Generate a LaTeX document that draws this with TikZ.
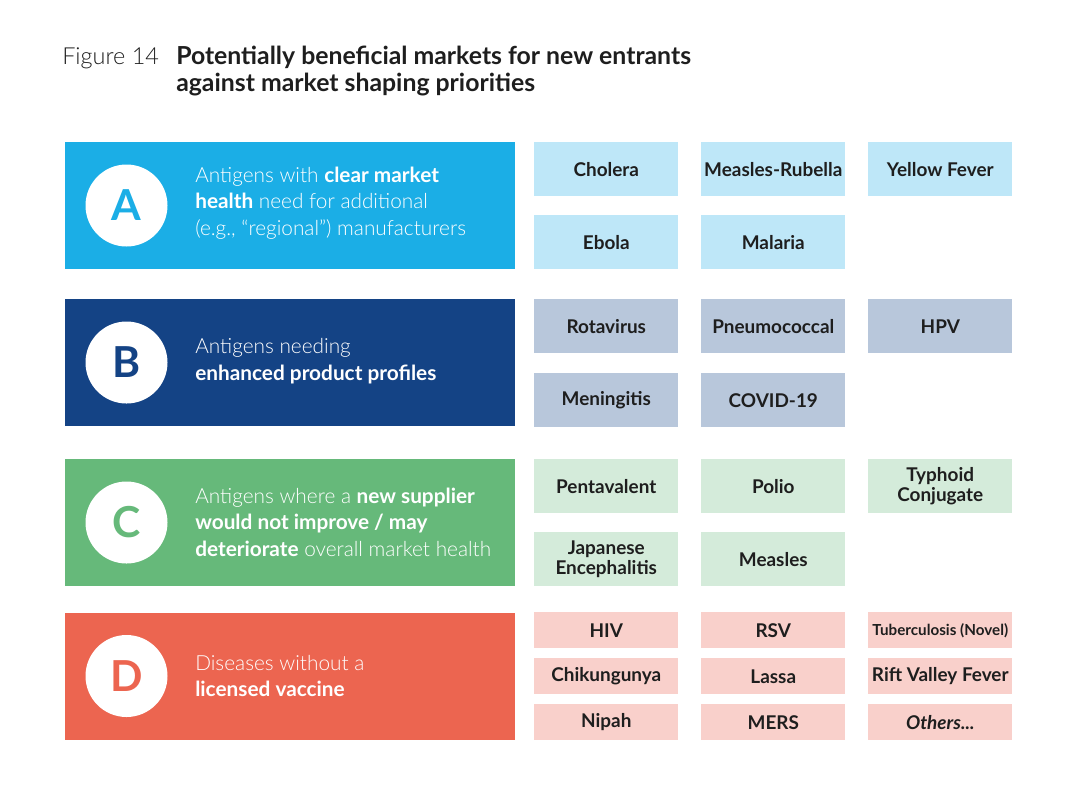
\documentclass[tikz,border=0pt]{standalone}
\usepackage{fontspec}
\setmainfont{Lato}
\newfontfamily\lightfont{Lato Light}
\usetikzlibrary{positioning}

\definecolor{bandA}{HTML}{1BAEE6}
\definecolor{cellA}{HTML}{BEE7F8}
\definecolor{bandB}{HTML}{144385}
\definecolor{cellB}{HTML}{B8C7DB}
\definecolor{bandC}{HTML}{66B97A}
\definecolor{cellC}{HTML}{D4EBDA}
\definecolor{bandD}{HTML}{EC6550}
\definecolor{cellD}{HTML}{F9D0CB}
\definecolor{ink}{HTML}{1E1E1E}

\newcommand{\keyphrase}[1]{{\normalfont\bfseries #1}}

\begin{document}
\begin{tikzpicture}[x=0.75pt,y=-0.75pt,
  band/.style={anchor=north west,inner sep=0pt,minimum width=337.5pt,minimum height=95.25pt},
  letter/.style={circle,fill=white,inner sep=0pt,minimum size=61.5pt,font=\fontsize{32}{32}\selectfont\bfseries},
  blurb/.style={anchor=west,align=left,text=white,inner sep=0pt,font=\lightfont\fontsize{15.6}{19.8}\selectfont},
  cell/.style={anchor=north west,inner sep=0pt,minimum width=108pt,minimum height=40.5pt,align=center,text=ink,font=\fontsize{14.2}{14.5}\selectfont\bfseries},
  small cell/.style={cell,minimum height=27pt},
  ]
\useasboundingbox (0,0) rectangle (1080,794);

% title
\node[anchor=west,inner sep=0pt,text=ink,font=\lightfont\fontsize{17.6}{20}\selectfont] (fig) at (62,58) {Figure 14};
\node[anchor=north west,inner sep=0pt,align=left,text=ink,font=\fontsize{18.6}{20.25}\selectfont\bfseries] (title) at (176,46)
  {Potentially beneficial markets for new entrants\\against market shaping priorities};

% A
\node[band,fill=bandA] (bandA) at (65,142) {};
\node[letter,text=bandA] (circA) at (126.5,205.5) {A};
\node[blurb] (textA) at (195,203) {Antigens with \keyphrase{clear market}\\\keyphrase{health} need for additional\\(e.g., “regional”) manufacturers};
\node[cell,fill=cellA] (cholera) at (534,142) {Cholera};
\node[cell,fill=cellA] (mr) at (701,142) {Measles-Rubella};
\node[cell,fill=cellA] (yf) at (868,142) {Yellow Fever};
\node[cell,fill=cellA] (ebola) at (534,215) {Ebola};
\node[cell,fill=cellA] (malaria) at (701,215) {Malaria};

% B
\node[band,fill=bandB] (bandB) at (65,299) {};
\node[letter,text=bandB] (circB) at (126.5,362.5) {B};
\node[blurb] (textB) at (195,361) {Antigens needing\\\keyphrase{enhanced product profiles}};
\node[cell,fill=cellB] (rota) at (534,299) {Rotavirus};
\node[cell,fill=cellB] (pneumo) at (701,299) {Pneumococcal};
\node[cell,fill=cellB] (hpv) at (868,299) {HPV};
\node[cell,fill=cellB] (mening) at (534,373) {Meningitis};
\node[cell,fill=cellB] (covid) at (701,373) {COVID-19};

% C
\node[band,fill=bandC] (bandC) at (65,459) {};
\node[letter,text=bandC] (circC) at (126.5,522.5) {C};
\node[blurb] (textC) at (195,522) {Antigens where a \keyphrase{new supplier}\\\keyphrase{would not improve / may}\\\keyphrase{deteriorate} overall market health};
\node[cell,fill=cellC] (penta) at (534,459) {Pentavalent};
\node[cell,fill=cellC] (polio) at (701,459) {Polio};
\node[cell,fill=cellC] (typhoid) at (868,459) {Typhoid\\Conjugate};
\node[cell,fill=cellC] (je) at (534,532) {Japanese\\Encephalitis};
\node[cell,fill=cellC] (measles) at (701,532) {Measles};

% D
\node[band,fill=bandD] (bandD) at (65,612.5) {};
\node[letter,text=bandD] (circD) at (126.5,676) {D};
\node[blurb] (textD) at (195,676) {Diseases without a\\\keyphrase{licensed vaccine}};
\node[small cell,fill=cellD] (hiv) at (534,612) {HIV};
\node[small cell,fill=cellD] (rsv) at (701,612) {RSV};
\node[small cell,fill=cellD,font=\fontsize{11.4}{12}\selectfont\bfseries] (tb) at (868,612) {Tuberculosis (Novel)};
\node[small cell,fill=cellD] (chik) at (534,658) {Chikungunya};
\node[small cell,fill=cellD] (lassa) at (701,658) {Lassa};
\node[small cell,fill=cellD] (rvf) at (868,658) {Rift Valley Fever};
\node[small cell,fill=cellD] (nipah) at (534,704) {Nipah};
\node[small cell,fill=cellD] (mers) at (701,704) {MERS};
\node[small cell,fill=cellD] (others) at (868,704) {\itshape Others...};
\end{tikzpicture}
\end{document}
